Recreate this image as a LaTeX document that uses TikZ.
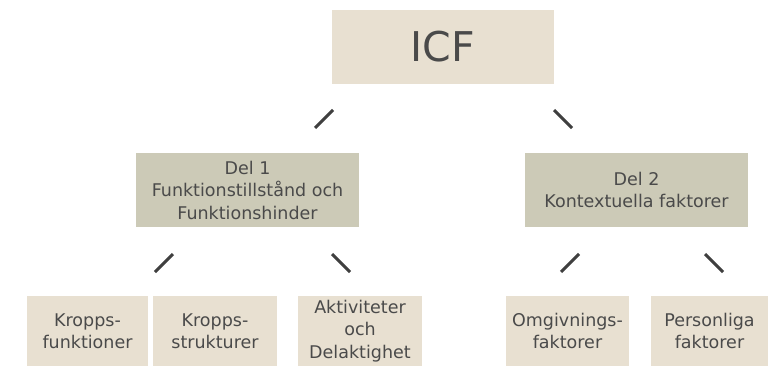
\documentclass[tikz,border=0pt]{standalone}
\usepackage{fontspec}
\setmainfont{DejaVu Sans}
\definecolor{beige}{HTML}{E8E0D1}
\definecolor{oliv}{HTML}{CCCAB7}
\definecolor{textgrau}{HTML}{4A4A4A}
\definecolor{strichgrau}{HTML}{3F3F3F}

\begin{document}
\begin{tikzpicture}[x=1pt,y=-1pt,
	box/.style={fill=beige,text=textgrau,align=center,inner sep=0pt,
		font=\fontsize{17.5}{22.5}\selectfont},
	del/.style={box,fill=oliv,minimum width=223pt,minimum height=74pt},
	blatt/.style={box,minimum height=70pt},
	strich/.style={draw=strichgrau,line width=3pt}]

\useasboundingbox (0,0) rectangle (769,367);

% ICF
\node[box,minimum width=222pt,minimum height=74pt,
	font=\fontsize{41}{44}\selectfont] (icf) at (443,47) {ICF};

% Del 1 und Del 2
\node[del] (del1) at (247.5,190) {Del 1\\Funktionstillstånd och\\Funktionshinder};
\node[del] (del2) at (636.5,190) {Del 2\\Kontextuella faktorer};

% untere Reihe
\node[blatt,minimum width=121pt] (kf)   at (87.5,331)  {Kropps-\\funktioner};
\node[blatt,minimum width=124pt] (ks)   at (215,331)   {Kropps-\\strukturer};
\node[blatt,minimum width=124pt] (akt)  at (360,331)   {Aktiviteter\\och\\Delaktighet};
\node[blatt,minimum width=123pt] (omg)  at (567.5,331) {Omgivnings-\\faktorer};
\node[blatt,minimum width=117pt] (pers) at (709.5,331) {Personliga\\faktorer};

% Striche
\coordinate (i1a) at (333,110); \coordinate (i1b) at (315,128);
\coordinate (i2a) at (554,110); \coordinate (i2b) at (572,128);
\coordinate (d1a) at (173,254); \coordinate (d1b) at (155,272);
\coordinate (d2a) at (332,254); \coordinate (d2b) at (350,272);
\coordinate (d3a) at (579,254); \coordinate (d3b) at (561,272);
\coordinate (d4a) at (705,254); \coordinate (d4b) at (723,272);

\draw[strich] (i1a)--(i1b);
\draw[strich] (i2a)--(i2b);
\draw[strich] (d1a)--(d1b);
\draw[strich] (d2a)--(d2b);
\draw[strich] (d3a)--(d3b);
\draw[strich] (d4a)--(d4b);

\end{tikzpicture}
\end{document}
